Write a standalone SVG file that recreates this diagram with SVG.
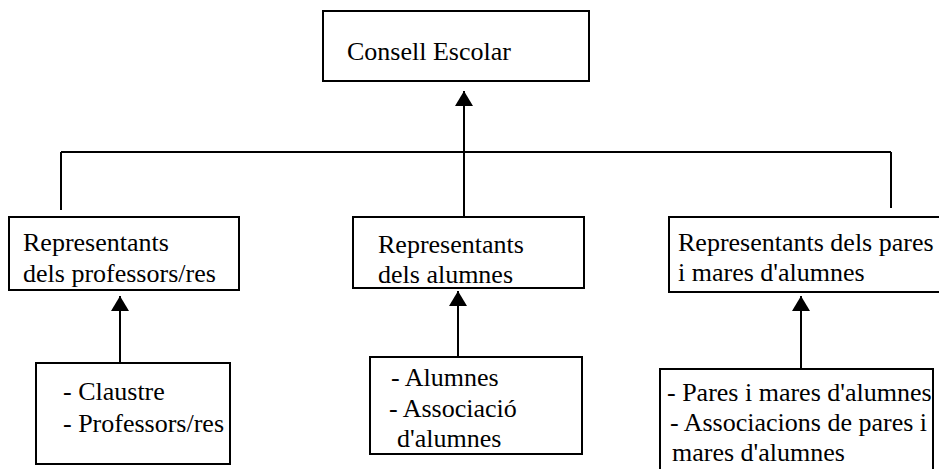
<svg xmlns="http://www.w3.org/2000/svg" width="939" height="469" viewBox="0 0 939 469">
  <style>
    .box { fill: #ffffff; stroke: #000000; stroke-width: 2; }
    .lbl { font-family: "Liberation Serif", "Times New Roman", serif; font-size: 26px; fill: #000000; }
    .wire { fill: none; stroke: #000000; stroke-width: 2; }
    .arrow { fill: none; stroke: #000000; stroke-width: 2; marker-end: url(#head); }
  </style>
  <defs>
    <marker id="head" markerUnits="userSpaceOnUse" markerWidth="16" markerHeight="18" refX="15" refY="9" orient="auto">
      <path d="M0,0 L15,9 L0,18 z" fill="#000000"/>
    </marker>
  </defs>
  <rect width="939" height="469" fill="#ffffff"/>

  <g id="connectors">
    <line class="wire" x1="61" y1="152" x2="891" y2="152"/>
    <line class="wire" x1="61" y1="152" x2="61" y2="210"/>
    <line class="wire" x1="891" y1="152" x2="891" y2="208"/>
    <line class="arrow" x1="464" y1="217" x2="464" y2="91"/>
    <line class="arrow" x1="120" y1="363" x2="120" y2="296"/>
    <line class="arrow" x1="458" y1="357" x2="458" y2="291"/>
    <line class="arrow" x1="801" y1="369" x2="801" y2="296"/>
  </g>

  <g id="consell-escolar">
    <rect class="box" x="323" y="11" width="266" height="70"/>
    <text class="lbl" x="347" y="60">Consell Escolar</text>
  </g>

  <g id="repr-professors">
    <rect class="box" x="9" y="217" width="230" height="73"/>
    <text class="lbl" x="23" y="251">Representants</text>
    <text class="lbl" x="23" y="282">dels professors/res</text>
  </g>

  <g id="repr-alumnes">
    <rect class="box" x="353" y="217" width="231" height="71"/>
    <text class="lbl" x="378" y="253">Representants</text>
    <text class="lbl" x="378" y="283">dels alumnes</text>
  </g>

  <g id="repr-pares">
    <rect class="box" x="669" y="217" width="280" height="75"/>
    <text class="lbl" x="678" y="251">Representants dels pares</text>
    <text class="lbl" x="678" y="281">i mares d'alumnes</text>
  </g>

  <g id="fonts-professors">
    <rect class="box" x="36" y="363" width="194" height="101"/>
    <text class="lbl" x="63" y="400">- Claustre</text>
    <text class="lbl" x="63" y="432">- Professors/res</text>
  </g>

  <g id="fonts-alumnes">
    <rect class="box" x="370" y="357" width="212" height="97"/>
    <text class="lbl" x="391" y="386">- Alumnes</text>
    <text class="lbl" x="389" y="417">- Associació</text>
    <text class="lbl" x="397" y="447">d'alumnes</text>
  </g>

  <g id="fonts-pares">
    <rect class="box" x="660" y="369" width="273" height="120"/>
    <text class="lbl" x="667" y="401">- Pares i mares d'alumnes</text>
    <text class="lbl" x="670" y="431">- Associacions de pares i</text>
    <text class="lbl" x="672" y="461">mares d'alumnes</text>
  </g>
</svg>
